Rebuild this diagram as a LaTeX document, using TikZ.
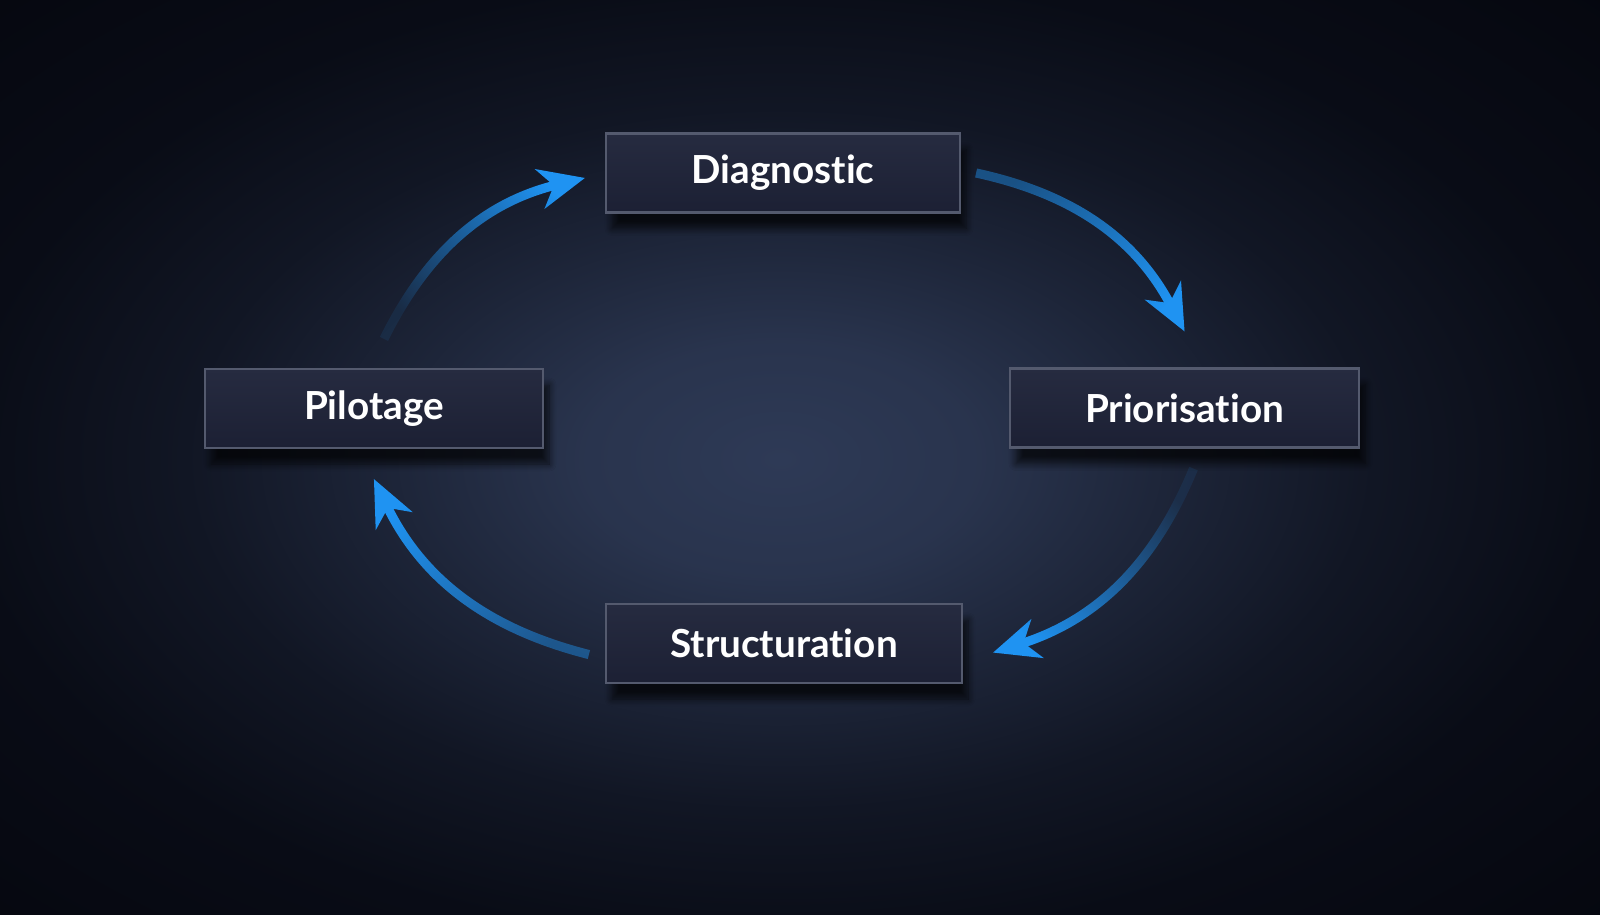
\documentclass[tikz,border=0pt]{standalone}
\usepackage{fontspec}
\setmainfont{Lato}[Ligatures=NoCommon]
\usetikzlibrary{positioning,arrows.meta,fadings,shadows.blur}
\definecolor{bgedge}{HTML}{05070F}
\definecolor{bgmid}{HTML}{2E3A56}
\definecolor{boxfill}{HTML}{1C2034}
\definecolor{boxtop}{HTML}{262B40}
\definecolor{boxline}{HTML}{545A6E}
\definecolor{arrowblue}{HTML}{1F93F2}
\pgfdeclareradialshading{bgglow}{\pgfpoint{0bp}{0bp}}{color(0bp)=(bgmid); color(6bp)=(bgmid!88!bgedge); color(12bp)=(bgmid!58!bgedge); color(18bp)=(bgmid!30!bgedge); color(25bp)=(bgmid!10!bgedge); color(35bp)=(bgedge); color(50bp)=(bgedge)}
\tikzfading[name=arrowfade, left color=transparent!90, middle color=transparent!10, right color=transparent!0]
\tikzfading[name=arrowfadesoft, left color=transparent!55, middle color=transparent!5, right color=transparent!0]

\begin{document}
\begin{tikzpicture}
\tikzstyle{sn}=[draw=boxline,line width=0.6pt,top color=boxtop,bottom color=boxfill,minimum height=7.9mm,text=white,font=\fontsize{11}{13}\selectfont\bfseries,blur shadow={shadow xshift=0.6mm,shadow yshift=-1.6mm,shadow opacity=70,shadow blur steps=8}]
\tikzstyle{arr}=[draw=arrowblue,line width=2.6pt,-{Stealth[length=4.6mm,width=4mm,inset=1.4mm]},path fading=arrowfade]
% background
\useasboundingbox (0,0) rectangle (16,9.14);
\begin{scope}
\clip (0,0) rectangle (16,9.14);
\fill[bgedge] (0,0) rectangle (16,9.14);
\shade[shading=bgglow] (-0.4,-0.3) rectangle (16,9.4);
\end{scope}
% steps
\node[sn,minimum width=3.54cm] (diag) at (7.83,7.41) {Diagnostic};
\node[sn,minimum width=3.49cm] (pri) at (11.845,5.06) {Priorisation};
\node[sn,minimum width=3.56cm] (str) at (7.84,2.705) {Structuration};
\node[sn,minimum width=3.38cm] (pil) at (3.74,5.055) {Pilotage};
% arrow ends
\coordinate[above=2.9mm of pil.north,xshift=1mm] (p1);
\coordinate[left=2mm of diag.west,yshift=-0.5mm] (d1);
\coordinate[right=1.5mm of diag.east] (d2);
\coordinate[above=3.6mm of pri.north] (r1);
\coordinate[below=2mm of pri.south,xshift=0.9mm] (r2);
\coordinate[right=3mm of str.east,yshift=-0.9mm] (s1);
\coordinate[left=1.6mm of str.west,yshift=-1.1mm] (s2);
\coordinate[below=3mm of pil.south] (p2);

\draw[arr,fading angle=39] (p1) to[bend left=25] (d1);
\draw[arr,path fading=arrowfadesoft,fading angle=-38] (d2) to[bend left=25] (r1);
\draw[arr,fading angle=-137] (r2) to[bend left=25] (s1);
\draw[arr,path fading=arrowfadesoft,fading angle=141] (s2) to[bend left=25] (p2);
\end{tikzpicture}
\end{document}
